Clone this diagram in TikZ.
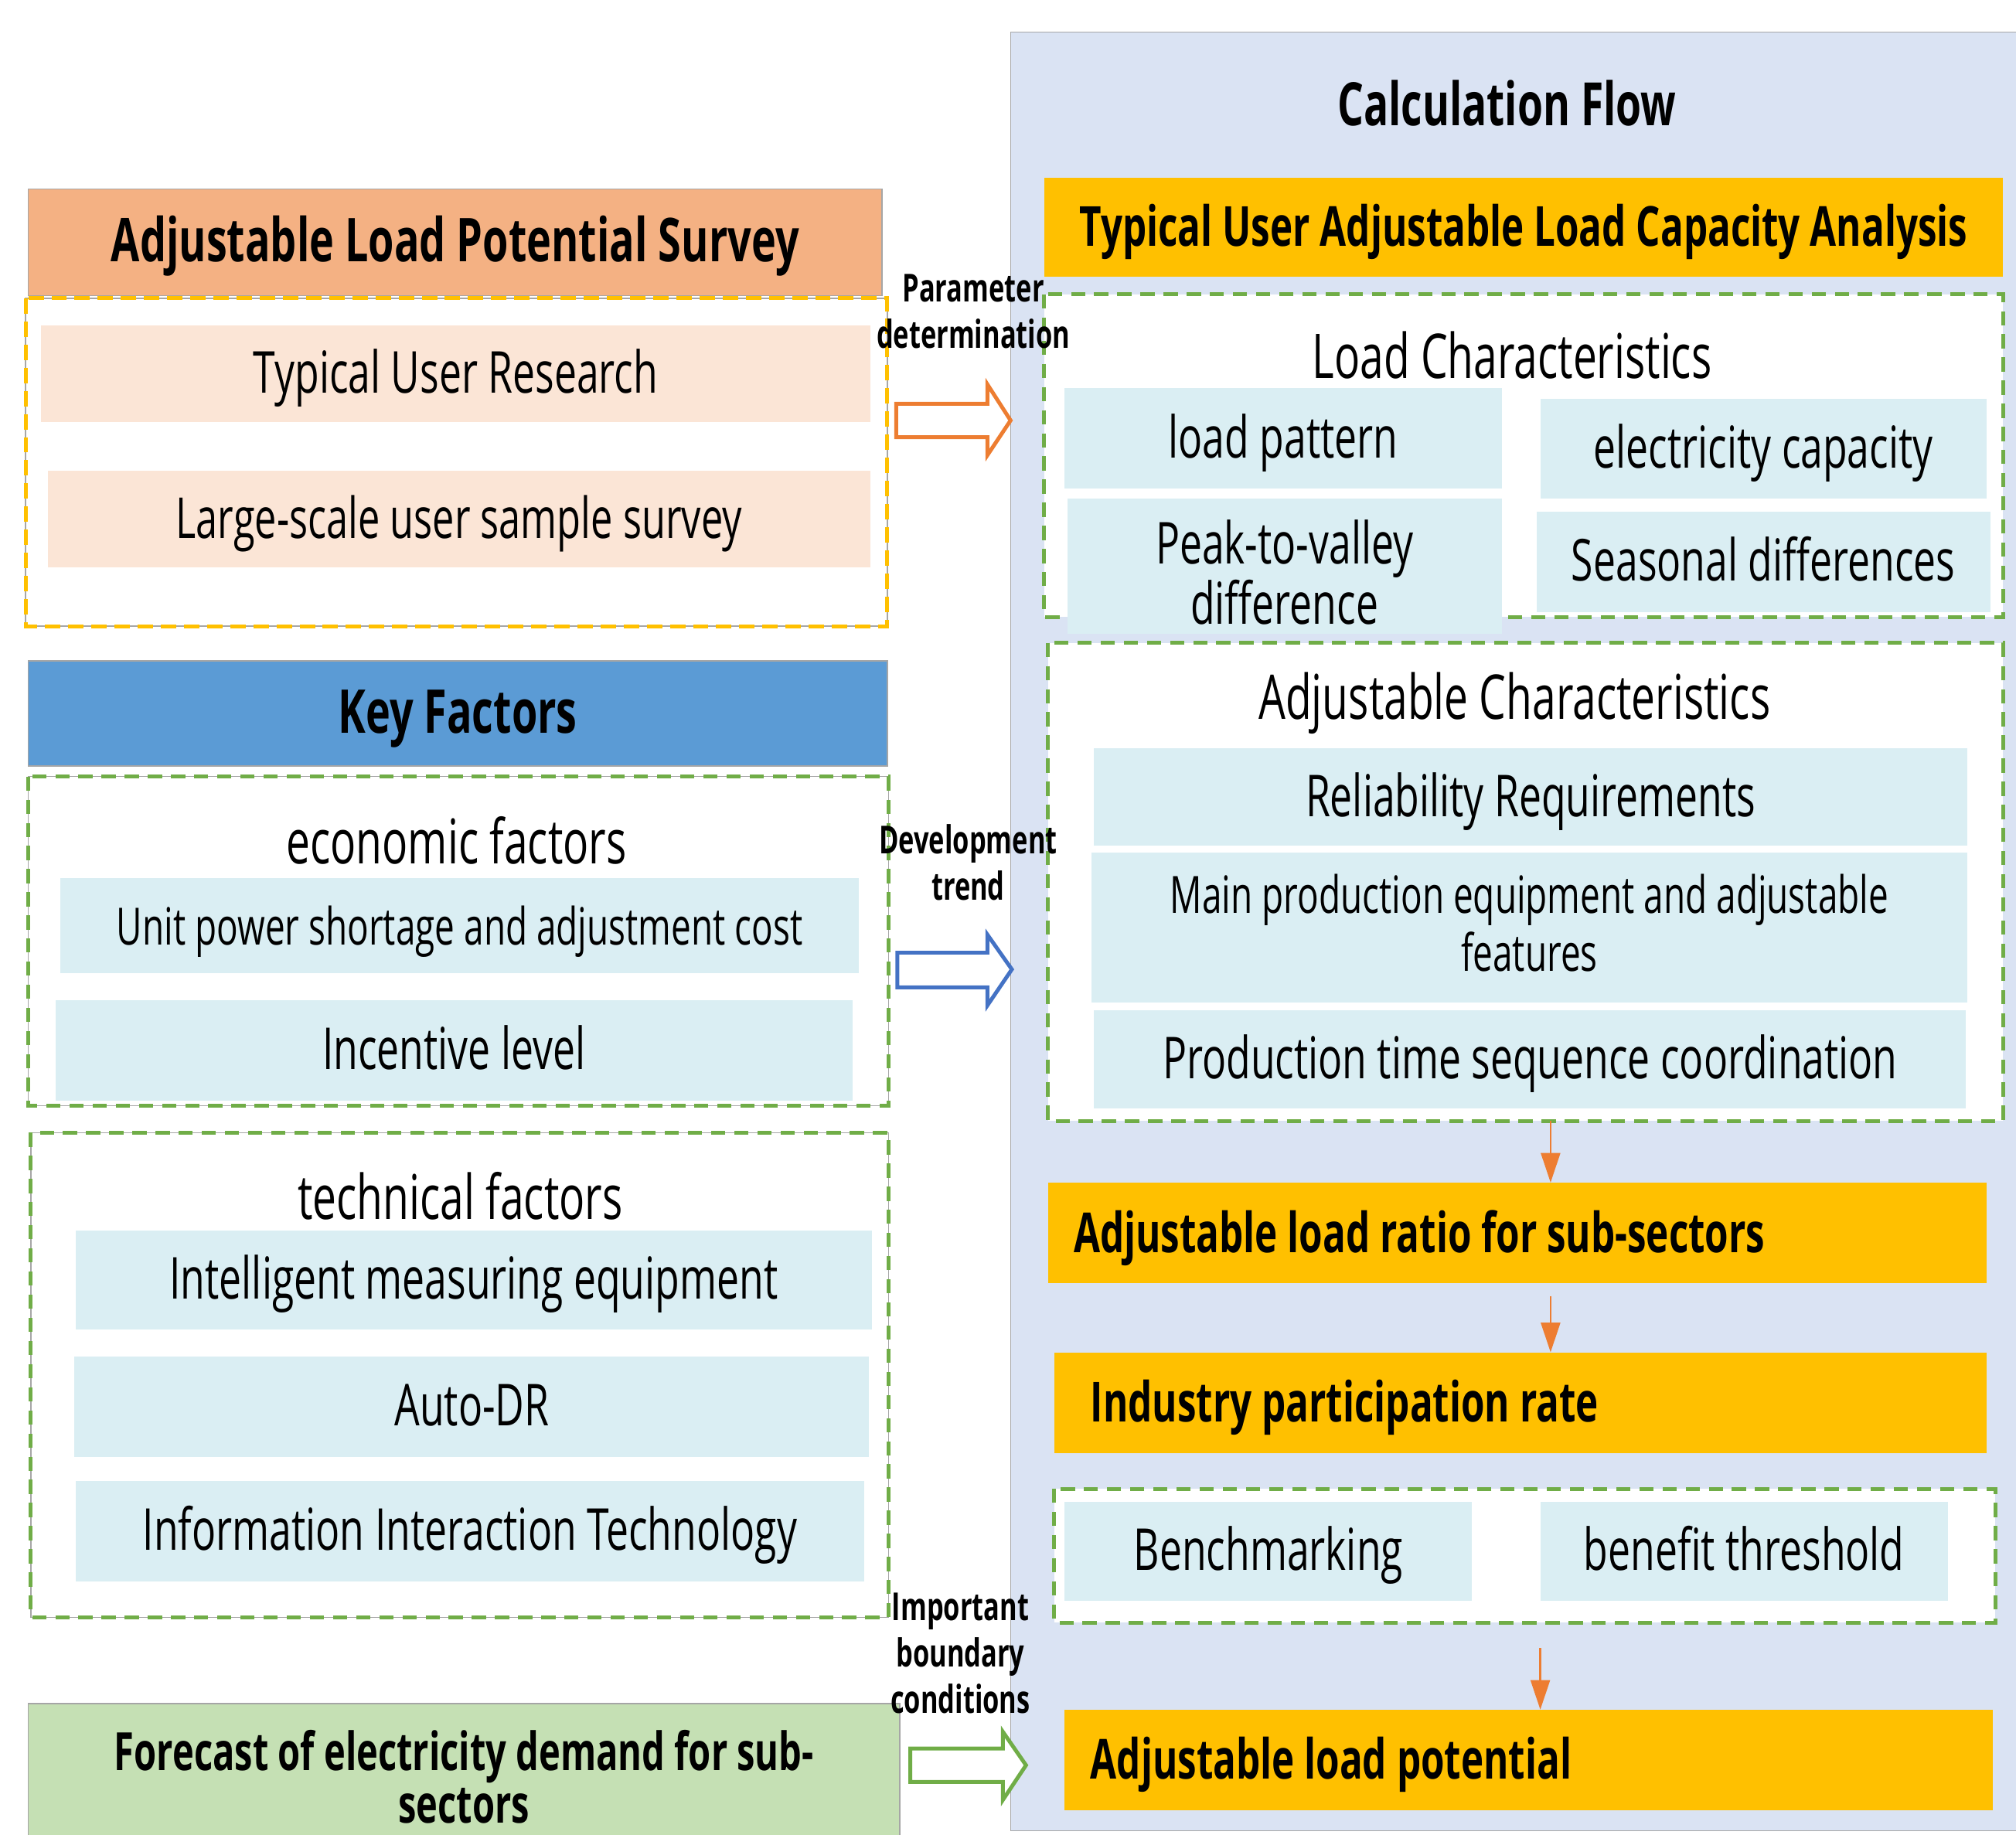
\documentclass[tikz,border=0pt]{standalone}
\usepackage{fontspec}
\setmainfont{Open Sans}[FakeStretch=0.69]
\usetikzlibrary{arrows.meta}

\definecolor{salmon}{HTML}{F4B183}
\definecolor{salmonlt}{HTML}{FBE5D6}
\definecolor{kfblue}{HTML}{5B9BD5}
\definecolor{cellblue}{HTML}{DAEEF3}
\definecolor{fcgreen}{HTML}{C5E0B4}
\definecolor{panelblue}{HTML}{DAE3F3}
\definecolor{gold}{HTML}{FFC000}
\definecolor{dashgreen}{HTML}{70AD47}
\definecolor{arrorange}{HTML}{ED7D31}
\definecolor{arrblue}{HTML}{4472C4}
\definecolor{edgegray}{HTML}{A6A6A6}

\newcommand{\fsz}[2]{\fontsize{#1}{#2}\selectfont}

\tikzset{
  cell/.style={rectangle, inner sep=0pt, align=center, fill=cellblue,
    text height=34pt, text depth=4pt, font=\fsz{45}{47}},
  pcell/.style={cell, fill=salmonlt},
  hdr/.style={rectangle, inner sep=0pt, align=center, draw=edgegray, line width=1pt,
    text height=34pt, text depth=4pt, font=\bfseries\fsz{47}{47}},
  goldbar/.style={rectangle, inner sep=0pt, fill=gold},
  goldtext/.style={inner sep=0pt, anchor=west, text height=34pt, text depth=4pt,
    font=\bfseries\fsz{43}{45}},
  grp/.style={draw=dashgreen, line width=3pt, dash pattern=on 11pt off 7pt},
  ygrp/.style={draw=gold, line width=3pt, dash pattern=on 12pt off 6pt},
  thinedge/.style={draw=edgegray, line width=1pt},
  sub/.style={inner sep=0pt, font=\fsz{48}{50}},
  lbl/.style={inner sep=0pt, align=center, font=\bfseries\fsz{30}{36}},
  flow/.style={draw=arrorange, line width=1.5pt, -{Triangle[length=23pt,width=15pt]}},
  barrow/.style={line width=3pt, fill=white, line join=miter},
}

\begin{document}
\begin{tikzpicture}[x=1pt, y=-1pt]
\useasboundingbox (0,0) rectangle (1568,1427);

% ---------- right panel: calculation flow ----------
\fill[panelblue] (786,25) rectangle (1572,1424);
\draw[thinedge] (1572,25) -- (786,25) -- (786,1424) -- (1572,1424);
\node[inner sep=0pt, font=\bfseries\fsz{46.5}{48}] (cf) at (1172,80) {Calculation Flow};

\node[hdr, draw=none, fill=gold, minimum width=746, minimum height=77, font=\bfseries\fsz{43}{45}]
  (tua) at (1185,176.5) {Typical User Adjustable Load Capacity Analysis};

% load characteristics group
\draw[grp, fill=white] (812,229) rectangle (1558,480);
\node[sub] (lct) at (1176,276) {Load Characteristics};
\node[cell, minimum width=340, minimum height=78] (lp) at (998,341) {load pattern};
\node[cell, minimum width=347, minimum height=78] (ec) at (1371.5,349) {electricity capacity};
\node[cell, minimum width=353, minimum height=78] (sd) at (1371.5,437) {Seasonal differences};

% adjustable characteristics group
\draw[grp, fill=white] (815,500) rectangle (1558,872);
\node[cell, minimum width=338, minimum height=105, text height=94pt] (pv) at (999,440.5)
  {Peak-to-valley\\difference};
\node[sub] (act) at (1178,547) {Adjustable Characteristics};
\node[cell, minimum width=679, minimum height=76] (rr) at (1190.5,620) {Reliability Requirements};
\node[cell, minimum width=681, minimum height=117, text height=72pt, font=\fsz{40}{45}] (mp) at (1189.5,721.5)
  {Main production equipment and adjustable\\features};
\node[cell, minimum width=678, minimum height=76] (pt) at (1190,824) {Production time sequence coordination};

% result bars
\node[goldbar, minimum width=730, minimum height=78] (alr) at (1180,959) {};
\node[goldtext] (alrt) at (835,959) {Adjustable load ratio for sub-sectors};
\node[goldbar, minimum width=725, minimum height=78] (ipr) at (1182.5,1091) {};
\node[goldtext] (iprt) at (848,1091) {Industry participation rate};

\draw[grp, fill=white] (820,1158) rectangle (1552,1262);
\node[cell, minimum width=317, minimum height=77] (bm) at (986.5,1206.5) {Benchmarking};
\node[cell, minimum width=317, minimum height=77] (bth) at (1356.5,1206.5) {benefit threshold};

\node[goldbar, minimum width=722, minimum height=78] (alp) at (1189,1369) {};
\node[goldtext] (alpt) at (848,1369) {Adjustable load potential};

% flow arrows
\coordinate (f1) at (1206,872);
\coordinate (f2) at (1206,1008);
\coordinate (f3) at (1198,1282);
\draw[flow] (f1) -- (f1 |- alr.north);
\draw[flow] (f2) -- (f2 |- ipr.north);
\draw[flow] (f3) -- (f3 |- alp.north);

% ---------- left column ----------
\node[hdr, fill=salmon, minimum width=664, minimum height=83] (als) at (354,188.5)
  {Adjustable Load Potential Survey};
\draw[thinedge] (20,232) rectangle (690,487);
\draw[ygrp] (20,232) rectangle (690,487);
\node[pcell, minimum width=645, minimum height=75] (tur) at (354.5,290.5) {Typical User Research};
\node[pcell, minimum width=640, minimum height=75, font=\fsz{44}{46}] (lss) at (357,403.5)
  {Large-scale user sample survey};

\node[hdr, fill=kfblue, minimum width=668, minimum height=82] (kf) at (356,555) {Key Factors};

\draw[thinedge] (22,604) rectangle (691,860);
\draw[grp] (22,604) rectangle (691,860);
\node[sub] (eco) at (355,654) {economic factors};
\node[cell, minimum width=621, minimum height=74, font=\fsz{40}{45}] (upc) at (357.5,720)
  {Unit power shortage and adjustment cost};
\node[cell, minimum width=620, minimum height=78] (inc) at (353,817) {Incentive level};

\draw[thinedge] (24,881) rectangle (691,1258);
\draw[grp] (24,881) rectangle (691,1258);
\node[sub] (tec) at (358,930) {technical factors};
\node[cell, minimum width=619, minimum height=77] (ime) at (368.5,995.5) {Intelligent measuring equipment};
\node[cell, minimum width=618, minimum height=78] (adr) at (367,1094) {Auto-DR};
\node[cell, minimum width=613, minimum height=78] (iit) at (365.5,1191) {Information Interaction Technology};

\fill[fcgreen] (22,1325) rectangle (700,1427);
\draw[thinedge] (22,1427) -- (22,1325) -- (700,1325) -- (700,1427);
\node[inner sep=0pt, align=center, text height=84pt, text depth=4pt, font=\bfseries\fsz{41}{41}]
  (fc) at (361,1378) {Forecast of electricity demand for sub-\\sectors};

% ---------- block arrows between the columns ----------
\draw[barrow, draw=arrorange] (697,314) -- (768,314) -- (768,299) -- (786,327) -- (768,354) -- (768,340) -- (697,340) -- cycle;
\draw[barrow, draw=arrblue] (698,741) -- (768,741) -- (768,727) -- (787,754) -- (768,782) -- (768,768) -- (698,768) -- cycle;
\draw[barrow, draw=dashgreen] (708,1360) -- (780,1360) -- (780,1347) -- (798,1373) -- (780,1400) -- (780,1386) -- (708,1386) -- cycle;

\node[lbl] (pd) at (757,242) {Parameter\\determination};
\node[lbl] (dt) at (753,671) {Development\\trend};
\node[lbl] (ibc) at (747,1286) {Important\\boundary\\conditions};
\end{tikzpicture}
\end{document}
